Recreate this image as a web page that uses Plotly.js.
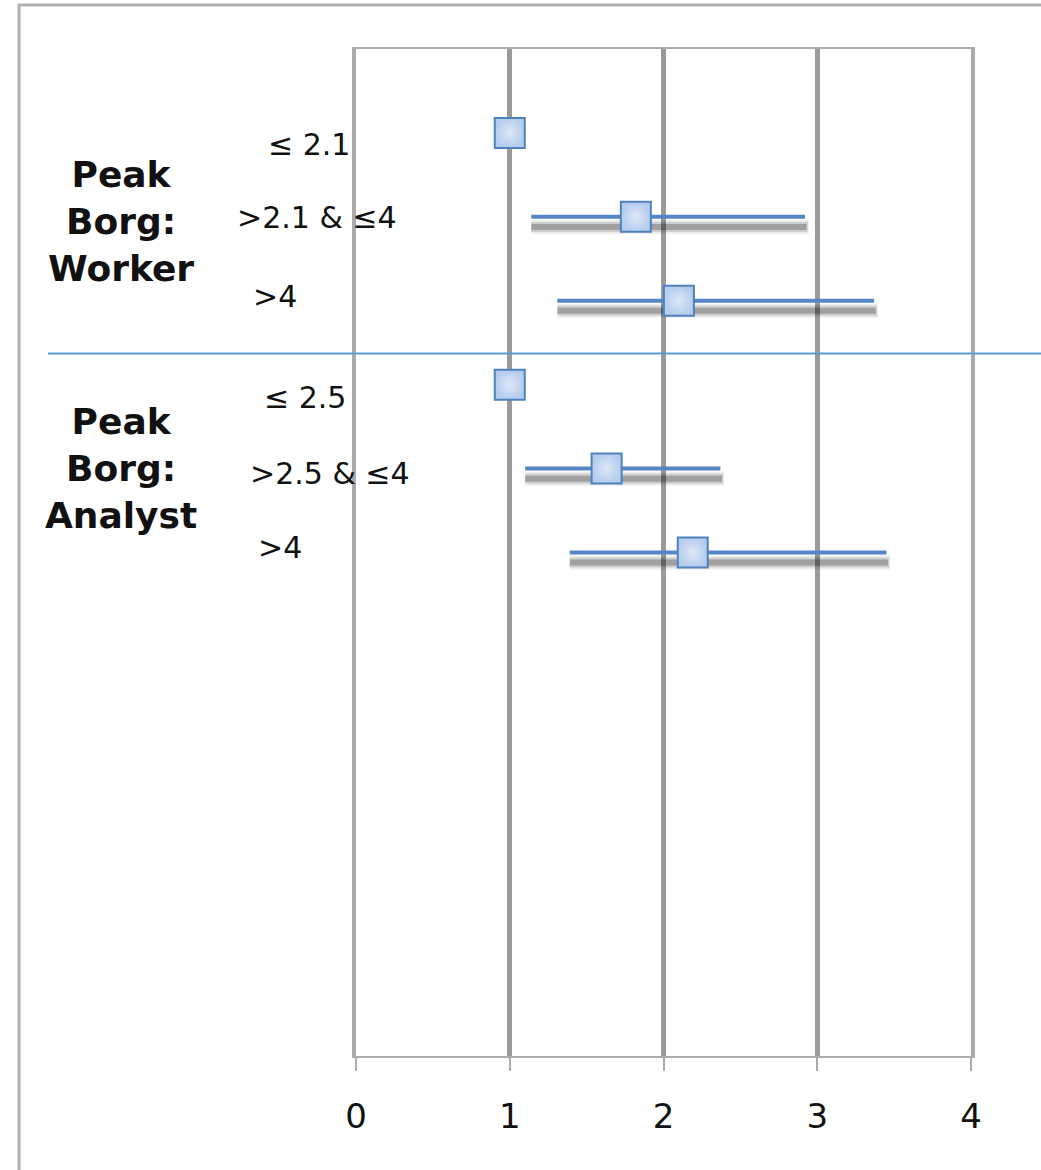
<!DOCTYPE html>
<html>
<head>
<meta charset="utf-8">
<script src="https://cdn.plot.ly/plotly-3.0.1.min.js"></script>
<style>html,body{margin:0;padding:0;background:#fff;}#chart{width:1041px;height:1170px;}
.grp-label{letter-spacing:1.5px;}</style>
</head>
<body>
<div id="chart"></div>
<script>
// ---- data ----
var rowLabels = ["≤ 2.1", ">2.1 & ≤4", ">4", "≤ 2.5", ">2.5 & ≤4", ">4"];
var rowPos    = [11, 10, 9, 8, 7, 6];
var estimate  = [1.00, 1.82, 2.10, 1.00, 1.63, 2.19];
var lowerCI   = [1.00, 1.14, 1.31, 1.00, 1.10, 1.39];
var upperCI   = [1.00, 2.92, 3.37, 1.00, 2.37, 3.45];
var groupLabels = ["Peak<br>Borg:<br>Worker", "Peak<br>Borg:<br>Analyst"];
var groupPos    = [10, 7];
var separatorPos = 8.37;
var xTicks = [0, 1, 2, 3, 4];

// ---- style / layout helpers ----
var W = 1041, H = 1170;
var L = 356, R = 971, T = 49, B = 1056;
function px(p) { return (p - L) / (R - L); }
function py(p) { return (B - p) / (B - T); }
var labelCenterPx = [309, 317, 275, 305, 330, 280];
var labelShift = [-12, -1, 4, -13, -5, 5];
var groupCenterPx = 121;
var groupShift = [-5, 0];
var shadowOffset = 0.12;
var blue = '#4F81BD';

var plus = estimate.map(function (e, i) { return upperCI[i] - e; });
var minus = estimate.map(function (e, i) { return e - lowerCI[i]; });
var shadowY = rowPos.map(function (y) { return y - shadowOffset; });

function shadowTrace(th, col, extra) {
  return {
    x: estimate, y: shadowY, type: 'scatter', mode: 'markers',
    marker: { size: 1, color: 'rgba(0,0,0,0)' },
    error_x: { type: 'data', symmetric: false, array: plus.map(function(v){return v>0?v+extra:0;}), arrayminus: minus,
               color: col, thickness: th, width: 0 },
    hoverinfo: 'skip', showlegend: false, cliponaxis: false
  };
}

var traces = [
  shadowTrace(14, 'rgba(0,0,0,0.07)', 0.025),
  shadowTrace(10, 'rgba(0,0,0,0.13)', 0.018),
  shadowTrace(6, 'rgba(0,0,0,0.22)', 0.01),
  {
    x: estimate, y: rowPos, type: 'scatter', mode: 'markers',
    marker: { symbol: 'square', size: 30, color: '#B4CCEE',
              gradient: { type: 'radial', color: '#DDE7F6' },
              line: { color: blue, width: 2 } },
    error_x: { type: 'data', symmetric: false, array: plus, arrayminus: minus,
               color: '#5585C4', thickness: 4, width: 0 },
    showlegend: false, cliponaxis: false
  }
];

var annotations = [];
rowLabels.forEach(function (t, i) {
  annotations.push({
    text: t, xref: 'paper', yref: 'y', x: px(labelCenterPx[i]), y: rowPos[i],
    xanchor: 'center', yanchor: 'middle', yshift: labelShift[i], showarrow: false,
    font: { family: 'DejaVu Sans', size: 30, color: '#111' }
  });
});
groupLabels.forEach(function (t, i) {
  annotations.push({
    text: '<b class="grp-label">' + t.split('<br>').join('</b><br><b class="grp-label">') + '</b>',
    xref: 'paper', yref: 'y', x: px(groupCenterPx), y: groupPos[i],
    xanchor: 'center', yanchor: 'middle', yshift: groupShift[i], showarrow: false,
    align: 'center',
    font: { family: 'DejaVu Sans', size: 36, color: '#111' }
  });
});

var shapes = [
  { type: 'rect', xref: 'paper', yref: 'paper', x0: px(19), x1: px(1046), y0: py(1176), y1: py(5),
    line: { color: '#B0B0B0', width: 3 }, fillcolor: 'rgba(0,0,0,0)', layer: 'below' },
  { type: 'line', xref: 'paper', yref: 'y', x0: px(48), x1: px(1046), y0: separatorPos, y1: separatorPos,
    line: { color: '#5B9BD5', width: 2 } }
];

var layout = {
  width: W, height: H,
  margin: { l: L, r: W - R, t: T, b: H - B, pad: 0 },
  paper_bgcolor: '#fff', plot_bgcolor: '#fff',
  showlegend: false,
  xaxis: {
    range: [0, 4], tickvals: xTicks, ticktext: xTicks.map(String),
    showgrid: true, gridcolor: '#9A9A9A', gridwidth: 5, zeroline: false,
    showline: true, linecolor: '#ABABAB', linewidth: 2, mirror: true,
    ticks: 'outside', ticklen: 13, tickwidth: 2, tickcolor: '#ABABAB',
    ticklabelstandoff: 16,
    tickfont: { family: 'DejaVu Sans', size: 34, color: '#111' },
    fixedrange: true
  },
  yaxis: {
    range: [0, 12], showgrid: false, zeroline: false, showticklabels: false,
    ticks: '', showline: true, linecolor: '#ABABAB', linewidth: 4, mirror: true,
    fixedrange: true
  },
  annotations: annotations,
  shapes: shapes
};

Plotly.newPlot('chart', traces, layout, { displayModeBar: false, staticPlot: true });
</script>
</body>
</html>
